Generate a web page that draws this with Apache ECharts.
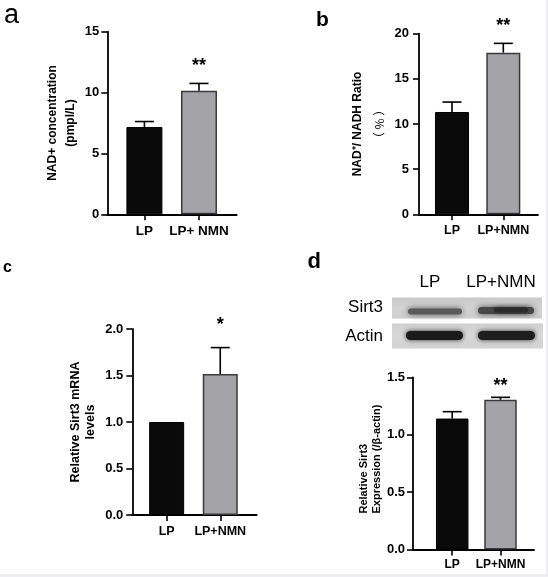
<!DOCTYPE html>
<html><head><meta charset="utf-8">
<script src="https://cdn.jsdelivr.net/npm/echarts@6/dist/echarts.min.js"></script>
<style>
html,body{margin:0;padding:0;background:#efeff1;width:548px;height:577px;overflow:hidden;}
#chart{position:absolute;left:0;top:0;width:546px;height:574px;background:#fff;}
</style>
</head><body><div id="chart"></div>
<script>
// ---------- data ----------
const categoriesA = ['LP', 'LP+ NMN'];
const categories = ['LP', 'LP+NMN'];

// a: NAD+ concentration
const nadMean = [7.17, 10.15];
const nadErr = [0.45, 0.6];
const nadSig = ['', '**'];
const nadTicks = [0, 5, 10, 15];

// b: NAD+/NADH ratio
const ratioMean = [11.33, 17.9];
const ratioErr = [1.1, 1.03];
const ratioSig = ['', '**'];
const ratioTicks = [0, 5, 10, 15, 20];

// c: Sirt3 mRNA
const mrnaMean = [1.0, 1.516];
const mrnaErr = [0, 0.284];
const mrnaSig = ['', '*'];
const mrnaTicks = [0, 0.5, 1.0, 1.5, 2.0];

// d: Sirt3 protein
const protMean = [1.142, 1.305];
const protErr = [0.06, 0.022];
const protSig = ['', '**'];
const protTicks = [0, 0.5, 1.0, 1.5];

const blotLanes = ['LP', 'LP+NMN'];
const blotRows = ['Sirt3', 'Actin'];

// ---------- build ----------
const FONT = 'Liberation Sans, Arial, Helvetica, sans-serif';
const BLACK = '#0a0a0a';
const GRAY = '#a4a3a8';
const TXT = '#000';

const grid = [], xAxis = [], yAxis = [], series = [];

function panel(i, p) {
  grid.push({left: p.left, top: p.top, width: p.width, height: p.height});
  const t = p.ticks;
  xAxis.push({
    type: 'value', gridIndex: i, min: p.xmin, max: p.xmax,
    splitLine: {show: false},
    axisLine: {show: true, onZero: false, lineStyle: {color: '#000', width: 1.8}},
    axisTick: {show: true, customValues: [1, 2], length: 6, lineStyle: {color: '#000', width: 1.6}},
    axisLabel: {customValues: [1, 2], margin: p.catMargin, fontSize: p.catSize, fontWeight: 'bold',
      color: TXT, fontFamily: FONT, formatter: v => p.cats[Math.round(v) - 1]}
  });
  yAxis.push({
    type: 'value', gridIndex: i, min: t[0], max: t[t.length - 1], interval: t[1] - t[0],
    splitLine: {show: false},
    axisLine: {show: true, onZero: false, lineStyle: {color: '#000', width: 1.8}},
    axisTick: {show: true, length: 6, lineStyle: {color: '#000', width: 1.6}},
    axisLabel: {margin: p.tickMargin, fontSize: 13, fontWeight: 'bold', color: TXT, fontFamily: FONT,
      formatter: v => p.dec ? v.toFixed(p.dec) : String(v)},
    name: p.name, nameLocation: 'middle', nameRotate: 90, nameGap: p.nameGap,
    nameTextStyle: Object.assign({fontSize: p.nameSize, fontWeight: 'bold', color: TXT,
      fontFamily: FONT, lineHeight: p.nameLH, align: 'center'}, p.nameExtra || {})
  });
  series.push({
    type: 'bar', xAxisIndex: i, yAxisIndex: i, barWidth: p.barWidth, silent: true,
    data: p.mean.map((v, k) => ({
      value: [k + 1, v],
      itemStyle: k === 0 ? {color: BLACK, borderColor: '#000', borderWidth: 1}
                         : {color: GRAY, borderColor: '#3a3a3a', borderWidth: 1.5}
    }))
  });
  series.push({
    type: 'custom', xAxisIndex: i, yAxisIndex: i, z: 5, silent: true, clip: false,
    data: p.mean.map((v, k) => [k + 1, v, p.err[k]]),
    renderItem: function (params, api) {
      const x = api.value(0), y = api.value(1), e = api.value(2);
      const p0 = api.coord([x, y]), p1 = api.coord([x, y + e]);
      const ch = [];
      if (e > 0) {
        ch.push({type: 'line', shape: {x1: p0[0], y1: p0[1], x2: p1[0], y2: p1[1]},
          style: {stroke: '#000', lineWidth: 1.6}});
        ch.push({type: 'line', shape: {x1: p1[0] - 9.5, y1: p1[1], x2: p1[0] + 9.5, y2: p1[1]},
          style: {stroke: '#000', lineWidth: 1.6}});
      }
      const s = p.sig[params.dataIndex];
      if (s) ch.push({type: 'text', x: p1[0], y: p1[1] - p.starOff + 4,
        style: {text: s, fill: TXT, font: 'bold 18px ' + FONT, align: 'center', verticalAlign: 'middle'}});
      return {type: 'group', children: ch};
    }
  });
}

panel(0, {left: 107.3, top: 31.7, width: 129.4, height: 182.6, xmin: 0.32, xmax: 2.691,
  ticks: nadTicks, mean: nadMean, err: nadErr, sig: nadSig, cats: categoriesA, catSize: 13.5, catMargin: 10,
  barWidth: 36, starOff: 21, tickMargin: 8,
  name: 'NAD+ concentration\n(pmpl/L)', nameGap: 28, nameSize: 12, nameLH: 18});

panel(1, {left: 419, top: 33.7, width: 119, height: 180.6, xmin: 0.357, xmax: 2.676,
  ticks: ratioTicks, mean: ratioMean, err: ratioErr, sig: ratioSig, cats: categories, catSize: 12.5, catMargin: 10,
  barWidth: 34, starOff: 21, tickMargin: 10,
  name: '{t|NAD⁺/ NADH Ratio}\n{p|（ % ）}', nameGap: 19, nameSize: 12, nameLH: 22,
  nameExtra: {rich: {
    t: {fontSize: 12, fontWeight: 'bold', color: TXT, fontFamily: FONT, lineHeight: 22},
    p: {fontSize: 12, fontWeight: 'normal', color: TXT, fontFamily: 'Noto Sans CJK SC, ' + FONT, lineHeight: 22}
  }}});

panel(2, {left: 132.3, top: 329, width: 124.4, height: 186, xmin: 0.359, xmax: 2.680,
  ticks: mrnaTicks, mean: mrnaMean, err: mrnaErr, sig: mrnaSig, cats: categories, catSize: 12.5, catMargin: 10,
  barWidth: 35, starOff: 27, tickMargin: 9, dec: 1,
  name: 'Relative Sirt3 mRNA\nlevels', nameGap: 34, nameSize: 12.5, nameLH: 15});

panel(3, {left: 413, top: 377.5, width: 121, height: 172, xmin: 0.188, xmax: 2.694,
  ticks: protTicks, mean: protMean, err: protErr, sig: protSig, cats: categories, catSize: 12, catMargin: 9,
  barWidth: 32.5, starOff: 15.6, tickMargin: 8, dec: 1,
  name: '{l1|Relative Sirt3}\n{l2|Expression (/β-actin)}', nameGap: 28, nameSize: 11, nameLH: 13,
  nameExtra: {rich: {
    l1: {fontSize: 11, fontWeight: 'bold', color: TXT, fontFamily: FONT, lineHeight: 13, width: 100, align: 'left'},
    l2: {fontSize: 11, fontWeight: 'bold', color: TXT, fontFamily: FONT, lineHeight: 13, width: 100, align: 'left'}
  }}});

// ---------- panel letters and western blot (decoration) ----------
const graphic = [
  {type: 'text', x: 4, y: 16, style: {text: 'a', font: '27px ' + FONT, fill: TXT, verticalAlign: 'middle'}},
  {type: 'text', x: 316, y: 20, style: {text: 'b', font: 'bold 21px ' + FONT, fill: TXT, verticalAlign: 'middle'}},
  {type: 'text', x: 3, y: 268, style: {text: 'c', font: 'bold 16px ' + FONT, fill: TXT, verticalAlign: 'middle'}},
  {type: 'text', x: 307.5, y: 261.5, style: {text: 'd', font: 'bold 22px ' + FONT, fill: TXT, verticalAlign: 'middle'}},

  {type: 'text', x: 430, y: 282, style: {text: blotLanes[0], font: '17px ' + FONT, fill: TXT, align: 'center', verticalAlign: 'middle'}},
  {type: 'text', x: 501, y: 282, style: {text: blotLanes[1], font: '17px ' + FONT, fill: TXT, align: 'center', verticalAlign: 'middle'}},
  {type: 'text', x: 383, y: 307.5, style: {text: blotRows[0], font: '17px ' + FONT, fill: TXT, align: 'right', verticalAlign: 'middle'}},
  {type: 'text', x: 383, y: 336, style: {text: blotRows[1], font: '17px ' + FONT, fill: TXT, align: 'right', verticalAlign: 'middle'}},

  {type: 'rect', shape: {x: 392, y: 297.5, width: 150, height: 21},
    style: {fill: {type: 'linear', x: 0, y: 0, x2: 0, y2: 1, colorStops: [
      {offset: 0, color: '#c9c9c9'}, {offset: 0.5, color: '#d3d3d3'}, {offset: 1, color: '#cdcdcd'}]}}},
  {type: 'rect', shape: {x: 392, y: 323.5, width: 151, height: 25},
    style: {fill: {type: 'linear', x: 0, y: 0, x2: 0, y2: 1, colorStops: [
      {offset: 0, color: '#cfcfcf'}, {offset: 0.5, color: '#d8d8d8'}, {offset: 1, color: '#d2d2d2'}]}}},

  {type: 'rect', shape: {x: 408, y: 308.5, width: 54, height: 6, r: 3},
    style: {fill: '#5a5a5a', shadowBlur: 6, shadowColor: 'rgba(70,70,70,0.9)'}},
  {type: 'rect', shape: {x: 478, y: 307, width: 56, height: 7, r: 3.5},
    style: {fill: '#474747', shadowBlur: 6, shadowColor: 'rgba(60,60,60,0.9)'}},
  {type: 'rect', shape: {x: 494, y: 307.5, width: 34, height: 5, r: 2.5},
    style: {fill: '#2c2c2c', shadowBlur: 4, shadowColor: 'rgba(40,40,40,0.8)'}},

  {type: 'rect', shape: {x: 406, y: 331, width: 57, height: 9, r: 4.5},
    style: {fill: '#1a1a1a', shadowBlur: 5, shadowColor: 'rgba(30,30,30,0.9)'}},
  {type: 'rect', shape: {x: 478, y: 331, width: 57, height: 9, r: 4.5},
    style: {fill: '#1e1e1e', shadowBlur: 5, shadowColor: 'rgba(30,30,30,0.9)'}}
];

const chart = echarts.init(document.getElementById('chart'), null, {renderer: 'canvas'});
chart.setOption({
  backgroundColor: '#ffffff',
  animation: false,
  grid, xAxis, yAxis, series, graphic
});
</script>
</body></html>
